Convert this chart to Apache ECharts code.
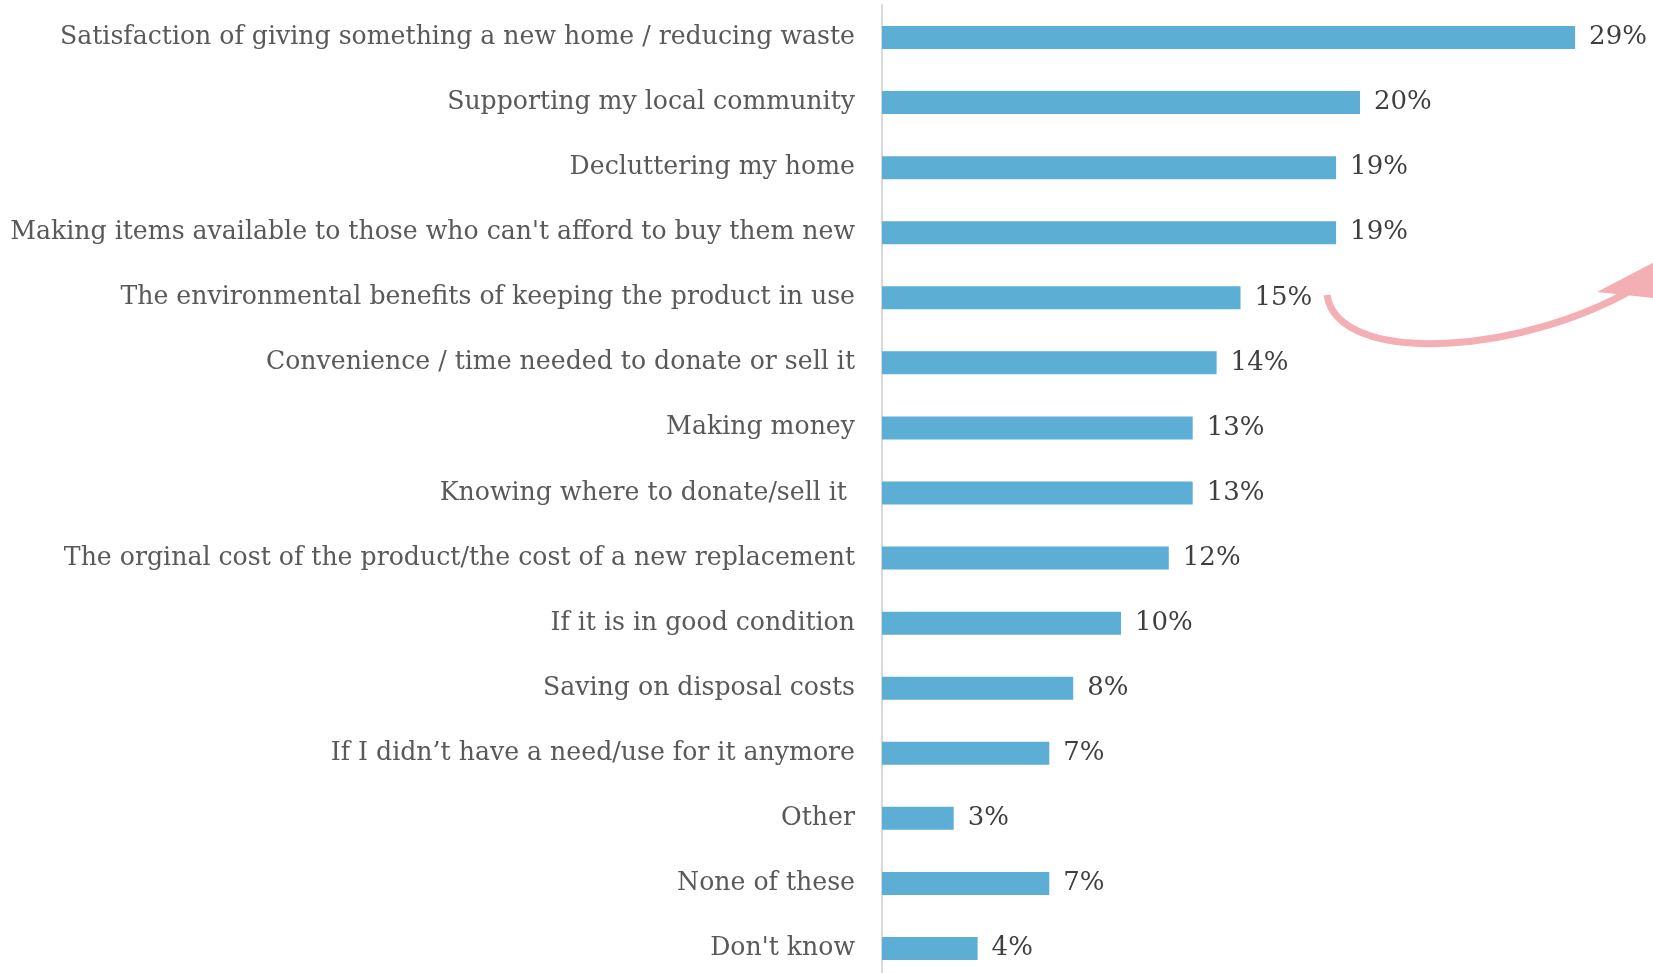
<!DOCTYPE html>
<html>
<head>
<meta charset="utf-8">
<title>Reasons for passing items on</title>
<script src="https://cdn.jsdelivr.net/npm/echarts@6/dist/echarts.min.js"></script>
<style>
  html, body { margin: 0; padding: 0; background: #ffffff; }
  #chart { width: 1653px; height: 973px; }
</style>
</head>
<body>
<div id="chart"></div>
<script>
// Survey motivations, listed top to bottom
const categories = [
  "Satisfaction of giving something a new home / reducing waste",
  "Supporting my local community",
  "Decluttering my home",
  "Making items available to those who can't afford to buy them new",
  "The environmental benefits of keeping the product in use",
  "Convenience / time needed to donate or sell it",
  "Making money",
  "Knowing where to donate/sell it ",
  "The orginal cost of the product/the cost of a new replacement",
  "If it is in good condition",
  "Saving on disposal costs",
  "If I didn\u2019t have a need/use for it anymore",
  "Other",
  "None of these",
  "Don't know"
];

// Share of respondents (%)
const shares = [29, 20, 19, 19, 15, 14, 13, 13, 12, 10, 8, 7, 3, 7, 4];

const FONT = "'DejaVu Serif', 'Liberation Serif', serif";
const PINK = '#F4AFB5';

const chart = echarts.init(document.getElementById('chart'), null, { renderer: 'canvas' });

chart.setOption({
  backgroundColor: '#ffffff',
  animation: false,
  grid: {
    left: 882, top: 5, width: 717, height: 976,
    containLabel: false,
    outerBoundsMode: 'none'
  },
  xAxis: {
    type: 'value',
    min: 0,
    max: 30,
    show: false
  },
  yAxis: {
    type: 'category',
    data: categories,
    inverse: true,
    axisTick: { show: false },
    axisLine: { show: true, lineStyle: { color: '#D9D9D9', width: 2 } },
    axisLabel: {
      margin: 27,
      color: '#595959',
      fontFamily: FONT,
      fontSize: 25.2
    },
    splitLine: { show: false }
  },
  series: [{
    type: 'bar',
    data: shares,
    barWidth: 23,
    itemStyle: { color: '#5DAED4' },
    label: {
      show: true,
      position: 'right',
      distance: 14,
      color: '#3F3F3F',
      fontFamily: FONT,
      fontSize: 26,
      formatter: p => p.value + '%'
    }
  }],
  graphic: [
    {
      type: 'bezierCurve',
      z: 10,
      shape: {
        x1: 1327, y1: 295,
        cpx1: 1338, cpy1: 368,
        cpx2: 1530, cpy2: 355,
        x2: 1645, y2: 282
      },
      style: { stroke: PINK, lineWidth: 7, fill: null }
    },
    {
      type: 'polygon',
      z: 10,
      shape: { points: [[1597, 292], [1720, 228], [1690, 302]] },
      style: { fill: PINK }
    }
  ]
});
</script>
</body>
</html>
